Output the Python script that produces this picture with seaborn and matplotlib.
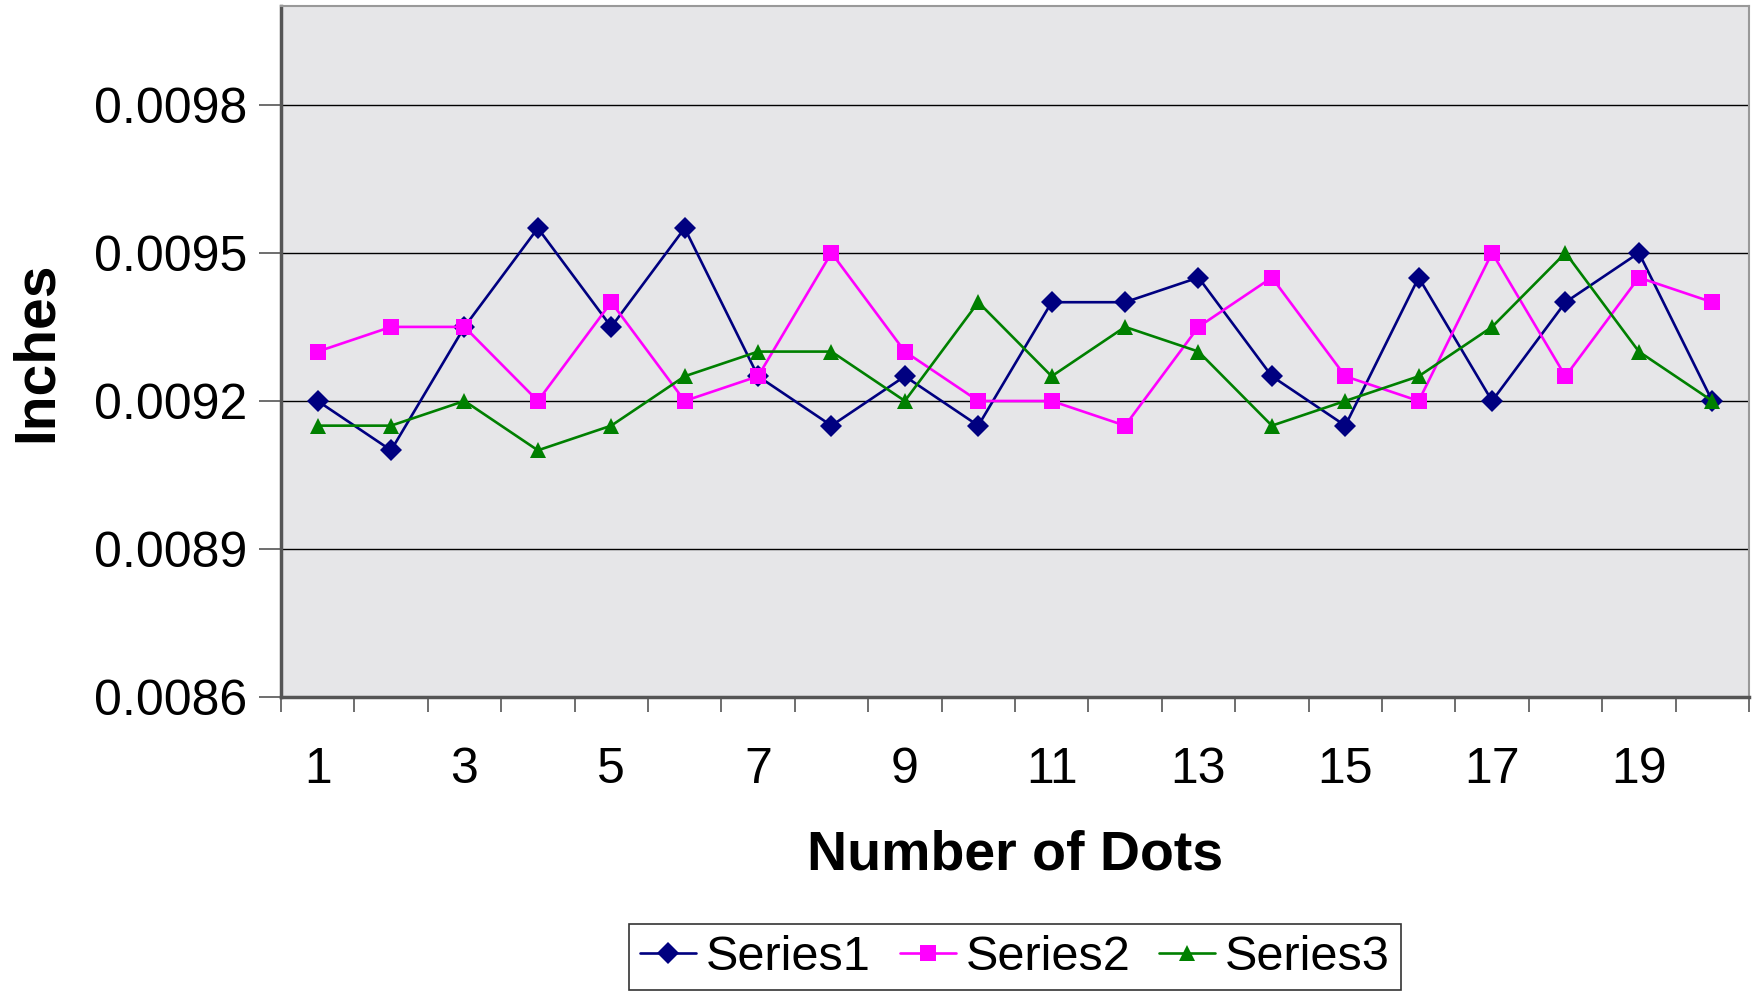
import numpy as np
import pandas as pd
import matplotlib
matplotlib.use("Agg")
import matplotlib.pyplot as plt
import seaborn as sns
from matplotlib.ticker import FixedLocator, NullFormatter

dots = list(range(1, 21))
series1 = [0.0092, 0.0091, 0.00935, 0.00955, 0.00935, 0.00955, 0.00925, 0.00915, 0.00925, 0.00915,
           0.0094, 0.0094, 0.00945, 0.00925, 0.00915, 0.00945, 0.0092, 0.0094, 0.0095, 0.0092]
series2 = [0.0093, 0.00935, 0.00935, 0.0092, 0.0094, 0.0092, 0.00925, 0.0095, 0.0093, 0.0092,
           0.0092, 0.00915, 0.00935, 0.00945, 0.00925, 0.0092, 0.0095, 0.00925, 0.00945, 0.0094]
series3 = [0.00915, 0.00915, 0.0092, 0.0091, 0.00915, 0.00925, 0.0093, 0.0093, 0.0092, 0.0094,
           0.00925, 0.00935, 0.0093, 0.00915, 0.0092, 0.00925, 0.00935, 0.0095, 0.0093, 0.0092]
series_names = ["Series1", "Series2", "Series3"]
y_ticks = [0.0086, 0.0089, 0.0092, 0.0095, 0.0098]
x_labels = [1, 3, 5, 7, 9, 11, 13, 15, 17, 19]

df = pd.DataFrame({
    "dot": dots * 3,
    "value": series1 + series2 + series3,
    "series": sum([[n] * len(dots) for n in series_names], []),
})

sns.set_theme(style="white")
plt.rcParams["font.family"] = ["Liberation Sans", "DejaVu Sans"]
plt.rcParams["text.color"] = "black"
plt.rcParams["axes.labelcolor"] = "black"
plt.rcParams["xtick.color"] = "black"
plt.rcParams["ytick.color"] = "black"

fig = plt.figure(figsize=(17.56, 9.96), dpi=100)
ax = fig.add_axes([0.160, 0.300, 0.836, 0.694])
ax.set_facecolor("#e6e6e8")

palette = {"Series1": "#000080", "Series2": "#ff00ff", "Series3": "#008000"}
markers = {"Series1": "D", "Series2": "s", "Series3": "^"}
sns.lineplot(data=df, x="dot", y="value", hue="series", style="series",
             palette=palette, markers=markers, dashes=False, linewidth=1.9,
             markersize=11, markeredgewidth=0, ax=ax, legend=True, zorder=3)

ax.set_xlim(0.5, 20.5)
ax.set_ylim(0.0086, 0.0100)
ax.set_yticks(y_ticks)
ax.set_yticklabels([f"{v:.4f}" for v in y_ticks], fontsize=36)
ax.yaxis.grid(True, color="black", linewidth=1.0, zorder=1)
ax.xaxis.grid(False)
ax.tick_params(axis="y", which="major", left=True, length=16, width=1.2, color="#555555", pad=8)

ax.set_xticks(x_labels)
ax.set_xticklabels([str(v) for v in x_labels], fontsize=36)
ax.xaxis.set_minor_locator(FixedLocator([i + 0.5 for i in range(0, 21)]))
ax.xaxis.set_minor_formatter(NullFormatter())
ax.tick_params(axis="x", which="major", bottom=True, length=0, pad=36)
ax.tick_params(axis="x", which="minor", bottom=True, length=11, width=1.2, color="#555555")

ax.set_xlabel("Number of Dots", fontsize=40, fontweight="bold", labelpad=26)
ax.set_ylabel("Inches", fontsize=41, fontweight="bold", labelpad=22)

for side in ["left", "bottom"]:
    ax.spines[side].set_color("#555555")
    ax.spines[side].set_linewidth(2.5)
for side in ["top", "right"]:
    ax.spines[side].set_color("#999999")
    ax.spines[side].set_linewidth(1.5)

handles, labels = ax.get_legend_handles_labels()
leg = ax.legend(handles, labels, loc="center", bbox_to_anchor=(0.5, -0.376), ncol=3,
                fontsize=35, frameon=True, fancybox=False, edgecolor="black",
                handlelength=1.15, handletextpad=0.2, columnspacing=0.6, borderpad=0.22,
                borderaxespad=0)
leg.get_frame().set_linewidth(1.2)

fig.savefig("out.png", dpi=100)
